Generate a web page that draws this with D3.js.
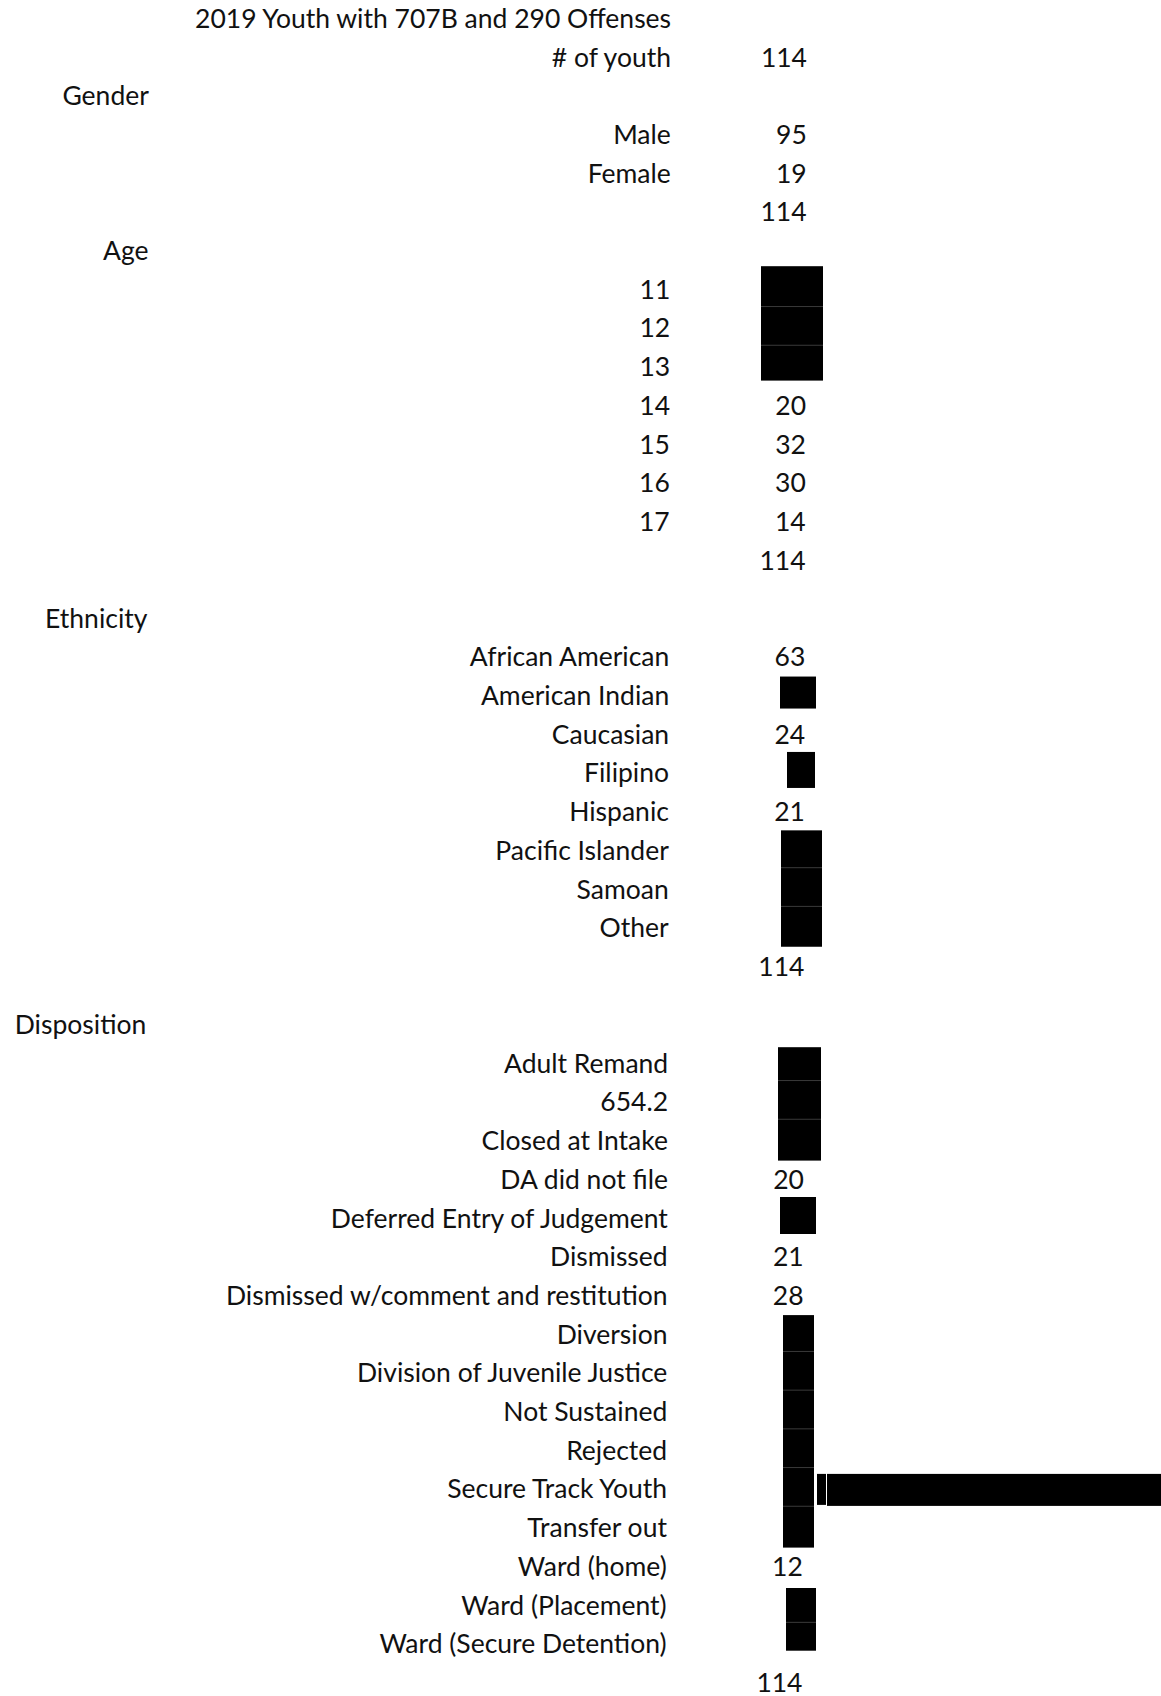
<!DOCTYPE html>
<html>
<head>
<meta charset="utf-8">
<script src="https://cdn.jsdelivr.net/npm/d3@7/dist/d3.min.js"></script>
<style>
  html, body { margin: 0; padding: 0; background: #fff; }
  text { font-family: Lato, "Noto Sans", sans-serif; fill: #111; }
</style>
</head>
<body>
<svg id="chart" width="1161" height="1696"></svg>
<script>
// ---------------- DATA ----------------
const titleText = "2019 Youth with 707B and 290 Offenses";
const youthLabel = "# of youth";
const youthTotal = 114;

const sectionNames = ["Gender", "Age", "Ethnicity", "Disposition"];

const genderLabels = ["Male", "Female"];
const genderValues = [95, 19];

const ageLabels = ["11", "12", "13", "14", "15", "16", "17"];
const ageValues = [null, null, null, 20, 32, 30, 14];   // null = redacted

const ethnicityLabels = ["African American", "American Indian", "Caucasian", "Filipino",
  "Hispanic", "Pacific Islander", "Samoan", "Other"];
const ethnicityValues = [63, null, 24, null, 21, null, null, null];

const dispositionLabels = ["Adult Remand", "654.2", "Closed at Intake", "DA did not file",
  "Deferred Entry of Judgement", "Dismissed", "Dismissed w/comment and restitution",
  "Diversion", "Division of Juvenile Justice", "Not Sustained", "Rejected",
  "Secure Track Youth", "Transfer out", "Ward (home)", "Ward (Placement)",
  "Ward (Secure Detention)"];
const dispositionValues = [null, null, null, 20, null, 21, 28, null, null, null, null,
  null, null, 12, null, null];

const sectionTotals = [114, 114, 114, 114];

// ---------------- LAYOUT (not data) ----------------
const W = 1161, H = 1696;
const fontSize = 26.5;
const rowStep = 38.7;
const firstRowY = 57;
const gapBefore = [0, 0, 0.5, 0.5];          // extra blank rows before each section header
const labelRight = 671, valueRight = 807, headerRight = 149;
const drift = 4.5;                             // slight skew of the scanned sheet
// redaction block edges relative to the value column's right edge: [left, right]
const redactEdges = [[-46, 16], [-27, 9], [-20, 8], [-26, 15], [-29, 14], [-27, 9], [-24, 7], [-21, 9]];
const redactPads = [[-23, 14], [-19, 13], [-21, 15], [-20, 19], [-16, 20], [-21, 16], [-19, 20], [-17, 7]];

const sectionLabels = [genderLabels, ageLabels, ethnicityLabels, dispositionLabels];
const sectionValues = [genderValues, ageValues, ethnicityValues, dispositionValues];

// Build row list
const rows = [];
let idx = 0;
rows.push({type: "item", label: youthLabel, value: youthTotal, idx: idx++});
sectionNames.forEach((name, s) => {
  idx += gapBefore[s];
  rows.push({type: "header", label: name, idx: idx++});
  sectionLabels[s].forEach((lab, i) => {
    rows.push({type: "item", label: lab, value: sectionValues[s][i], section: s, idx: idx++});
  });
  rows.push({type: "total", value: sectionTotals[s], idx: idx++});
});
const lastIdx = idx - 1;

const y = d3.scaleLinear().domain([0, 1]).range([firstRowY, firstRowY + rowStep]);
const skew = d3.scaleLinear().domain([0, lastIdx]).range([0, -drift]);

const svg = d3.select("#chart");
const capOff = fontSize * 0.36;

// title
svg.append("text")
  .attr("x", labelRight + skew(-1))
  .attr("y", y(-1) + capOff)
  .attr("text-anchor", "end")
  .attr("font-size", fontSize)
  .text(titleText);

// headers
svg.selectAll("text.header").data(rows.filter(r => r.type === "header"))
  .join("text").attr("class", "header")
  .attr("x", d => headerRight + skew(d.idx))
  .attr("y", d => y(d.idx) + capOff)
  .attr("text-anchor", "end")
  .attr("font-size", fontSize)
  .text(d => d.label);

// item labels
svg.selectAll("text.label").data(rows.filter(r => r.type === "item"))
  .join("text").attr("class", "label")
  .attr("x", d => labelRight + skew(d.idx))
  .attr("y", d => y(d.idx) + capOff)
  .attr("text-anchor", "end")
  .attr("font-size", fontSize)
  .text(d => d.label);

// values (items + totals)
svg.selectAll("text.value").data(rows.filter(r => (r.type === "item" || r.type === "total") && r.value != null))
  .join("text").attr("class", "value")
  .attr("x", d => valueRight + skew(d.idx))
  .attr("y", d => y(d.idx) + capOff)
  .attr("text-anchor", "end")
  .attr("font-size", fontSize)
  .text(d => d.value);

// redaction blocks: consecutive null values
const blocks = [];
let cur = null;
rows.forEach(r => {
  if (r.type === "item" && r.value == null) {
    if (cur && cur.last.idx === r.idx - 1) { cur.last = r; cur.rows.push(r); }
    else { cur = {first: r, last: r, rows: [r]}; blocks.push(cur); }
  }
});
blocks.forEach((b, i) => {
  const base = valueRight;
  const [l, r] = redactEdges[i] || [-27, 9];
  const [pt, pb] = redactPads[i] || [-20, 16];
  const x0 = base + l, x1 = base + r;
  const top = y(b.first.idx) + pt, bot = y(b.last.idx) + pb;
  svg.append("rect").attr("x", x0).attr("y", top)
    .attr("width", x1 - x0).attr("height", bot - top).attr("fill", "#000");
  // faint seams between stacked boxes
  for (let k = 1; k < b.rows.length; k++) {
    const sy = y(b.rows[k].idx - 0.5) - 2;
    svg.append("line")
      .attr("x1", x0).attr("x2", x1)
      .attr("y1", sy).attr("y2", sy)
      .attr("stroke", "#3a3a3a").attr("stroke-width", 1);
  }
  b.right = x1;
});

// long redaction bar on the "Secure Track Youth" row
const stRow = rows.find(r => r.label === "Secure Track Youth");
const stBlock = blocks.find(b => b.rows.includes(stRow));
if (stRow && stBlock) {
  svg.append("rect").attr("x", stBlock.right + 3).attr("y", y(stRow.idx) - 15)
    .attr("width", 9).attr("height", 31).attr("fill", "#000");
  svg.append("rect").attr("x", stBlock.right + 13).attr("y", y(stRow.idx) - 15)
    .attr("width", W - stBlock.right - 13).attr("height", 32).attr("fill", "#000");
}
</script>
</body>
</html>
